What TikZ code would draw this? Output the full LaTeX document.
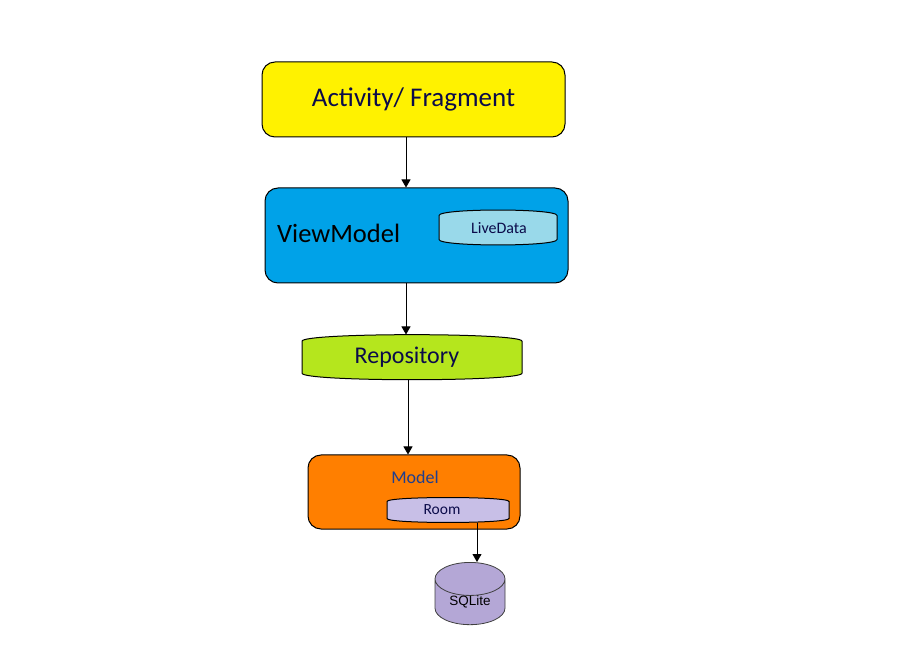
\documentclass[tikz,border=0pt]{standalone}
\usepackage{fontspec}
\setmainfont{Carlito}
\newfontfamily\arialfont{Liberation Sans}
\usetikzlibrary{positioning,shapes.geometric,arrows.meta}
\definecolor{actyellow}{HTML}{FFF200}
\definecolor{vmblue}{HTML}{00A2E8}
\definecolor{liveblue}{HTML}{99D9EA}
\definecolor{repogreen}{HTML}{B5E61D}
\definecolor{modelorange}{HTML}{FF7F00}
\definecolor{roomlilac}{HTML}{C8BFE7}
\definecolor{sqlpurple}{HTML}{B4A7D6}
\definecolor{darknavy}{HTML}{0B0B4A}
\definecolor{modeltext}{HTML}{1F3F8F}
\tikzset{main box/.style={draw,rounded corners=13pt,line width=1pt,inner sep=0pt},
  bulge line/.style={draw,line width=1pt},
  plain box/.style={inner sep=0pt},
  arr/.style={-{Triangle[length=8pt,width=9pt]},line width=0.8pt},}
% x, y, half width, straight half height, control offset, colour
\newcommand{\bulgeshape}[6]{\path[bulge line,fill=#6,shift={(#1,#2)}]
  (-#3,#4) -- (-#3,-#4) .. controls (-#3,-#5) and (#3,-#5) .. (#3,-#4)
  -- (#3,#4) .. controls (#3,#5) and (-#3,#5) .. (-#3,#4) -- cycle;}

\begin{document}
\begin{tikzpicture}[x=1pt,y=-1pt]
\useasboundingbox (0,0) rectangle (914,660);

\node[main box,fill=actyellow,minimum width=303pt,minimum height=75pt,text=darknavy,font=\fontsize{27}{30}\selectfont]
  (act) at (413.5,99.5) {\raisebox{-2pt}{Activity/ Fragment}};

\node[main box,fill=vmblue,minimum width=303pt,minimum height=95pt] (vm) at (416.5,235.5) {};
\node[anchor=west,font=\fontsize{26.5}{30}\selectfont,inner sep=0pt] (vmlabel) at (277,233) {ViewModel};
\bulgeshape{498}{227.5}{59}{12}{19.3}{liveblue}
\node[plain box,minimum width=118pt,minimum height=35pt,text=darknavy,font=\fontsize{16}{18}\selectfont]
  (live) at (499,228) {LiveData};

\bulgeshape{412}{357.2}{110}{16}{24.7}{repogreen}
\node[plain box,minimum width=220pt,minimum height=45pt,text=darknavy,font=\fontsize{24}{27}\selectfont]
  (repo) at (407,357.2) {Repository};

\node[main box,fill=modelorange,minimum width=212pt,minimum height=74pt] (model) at (414,492) {};
\node[font=\fontsize{18}{21}\selectfont,text=modeltext,inner sep=0pt] (modellabel) at (415,477) {Model};
\bulgeshape{448}{510}{61}{8.5}{13.8}{roomlilac}
\node[plain box,minimum width=122pt,minimum height=25pt,text=darknavy,font=\fontsize{15.5}{17}\selectfont]
  (room) at (442,510) {Room};

\node[cylinder,shape border rotate=90,draw=black!75,line width=0.8pt,fill=sqlpurple,aspect=0.8,
  minimum width=70pt,minimum height=55pt,inner sep=0pt,font=\arialfont\fontsize{13.5}{15}\selectfont]
  (sql) at (470,602) {SQLite};

\draw[arr] ([xshift=-7.5]act.south) coordinate (a1) -- (a1 |- vm.north);
\draw[arr] ([xshift=-10.5]vm.south) coordinate (a2) -- (a2 |- repo.north);
\draw[arr] ([xshift=1]repo.south) coordinate (a3) -- (a3 |- model.north);
\draw[arr] ([xshift=35]room.south) coordinate (a4) -- (a4 |- sql.north);
\end{tikzpicture}
\end{document}
